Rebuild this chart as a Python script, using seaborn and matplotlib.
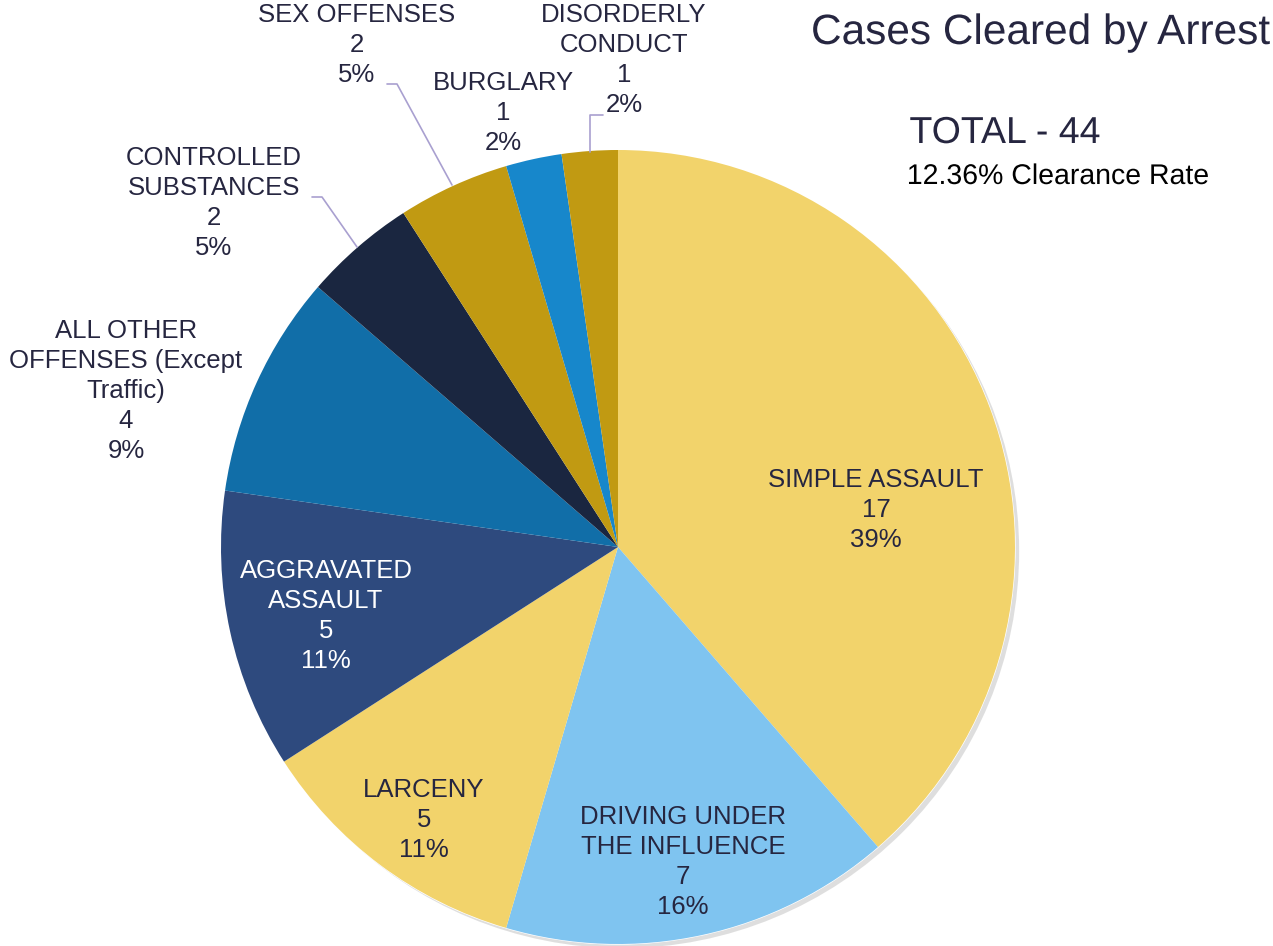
import matplotlib
matplotlib.use("Agg")
import matplotlib.pyplot as plt
import matplotlib.patheffects as pe
import seaborn as sns

categories = ["SIMPLE ASSAULT", "DRIVING UNDER\nTHE INFLUENCE", "LARCENY", "AGGRAVATED\nASSAULT",
              "ALL OTHER\nOFFENSES (Except\nTraffic)", "CONTROLLED\nSUBSTANCES", "SEX OFFENSES",
              "BURGLARY", "DISORDERLY\nCONDUCT"]
counts = [17, 7, 5, 5, 4, 2, 2, 1, 1]
colors = ["#F2D36B", "#7FC4F0", "#F2D36B", "#2E4A7E", "#116EA8", "#1A2640", "#C19A12", "#1787CB", "#C19A12"]
title = "Cases Cleared by Arrest"
total_text = "TOTAL - 44"
rate_text = "12.36% Clearance Rate"

sns.set_theme(style="white")
plt.rcParams['font.family'] = ['Liberation Sans', 'DejaVu Sans']

W, H = 1273, 946
fig = plt.figure(figsize=(W / 100, H / 100), dpi=100)
ax = fig.add_axes([0, 0, 1, 1])

cx, cy, r = 618, H - 547, 397
palette = sns.color_palette(colors)
bg = plt.Circle((cx, cy), r, color="white", zorder=0)
bg.set_path_effects([pe.SimplePatchShadow(offset=(3, -3), alpha=0.18), pe.Normal()])
ax.add_patch(bg)
wedges, _ = ax.pie(counts, colors=palette, startangle=90, counterclock=False,
                   center=(cx, cy), radius=r, frame=True,
                   wedgeprops=dict(linewidth=0.5, edgecolor="none"))
ax.set_xlim(0, W)
ax.set_ylim(0, H)
ax.set_aspect("equal")
ax.axis("off")

total = sum(counts)
label_pos = [(876, 510), (683, 862), (424, 820), (326, 616), (126, 391),
             (214, 203), (357, 45), (503, 113), (624, 60)]
line_h = 30
txtc = "#262640"
for i, (cat, n) in enumerate(zip(categories, counts)):
    pct = round(100 * n / total)
    x, y = label_pos[i]
    col = "white" if i == 3 else txtc
    lines = f"{cat}\n{n}\n{pct}%".split("\n")
    k = len(lines)
    for j, ln in enumerate(lines):
        yy = y + (j - (k - 1) / 2) * line_h
        ax.text(x, H - yy, ln, ha="center", va="center", fontsize=18.5, color=col)

lc = "#A9A0D0"
ax.plot([312, 322, 357], [H - 197, H - 197, H - 247], color=lc, lw=1.2)
ax.plot([387, 397, 452], [H - 84, H - 84, H - 185], color=lc, lw=1.2)
ax.plot([603, 590, 590], [H - 115, H - 115, H - 152], color=lc, lw=1.2)

ax.text(1270, H - 33, title, ha="right", va="center", fontsize=30.5, color="#262640",
        path_effects=[pe.SimpleLineShadow(offset=(1.5, -1.5), alpha=0.3), pe.Normal()])
ax.text(1005, H - 133, total_text, ha="center", va="center", fontsize=27, color="#262640",
        path_effects=[pe.SimpleLineShadow(offset=(1.5, -1.5), alpha=0.3), pe.Normal()])
ax.text(1058, H - 177, rate_text, ha="center", va="center", fontsize=20.5, color="black",
        path_effects=[pe.SimpleLineShadow(offset=(1, -1), alpha=0.3), pe.Normal()])

fig.savefig("out.png", dpi=100)
